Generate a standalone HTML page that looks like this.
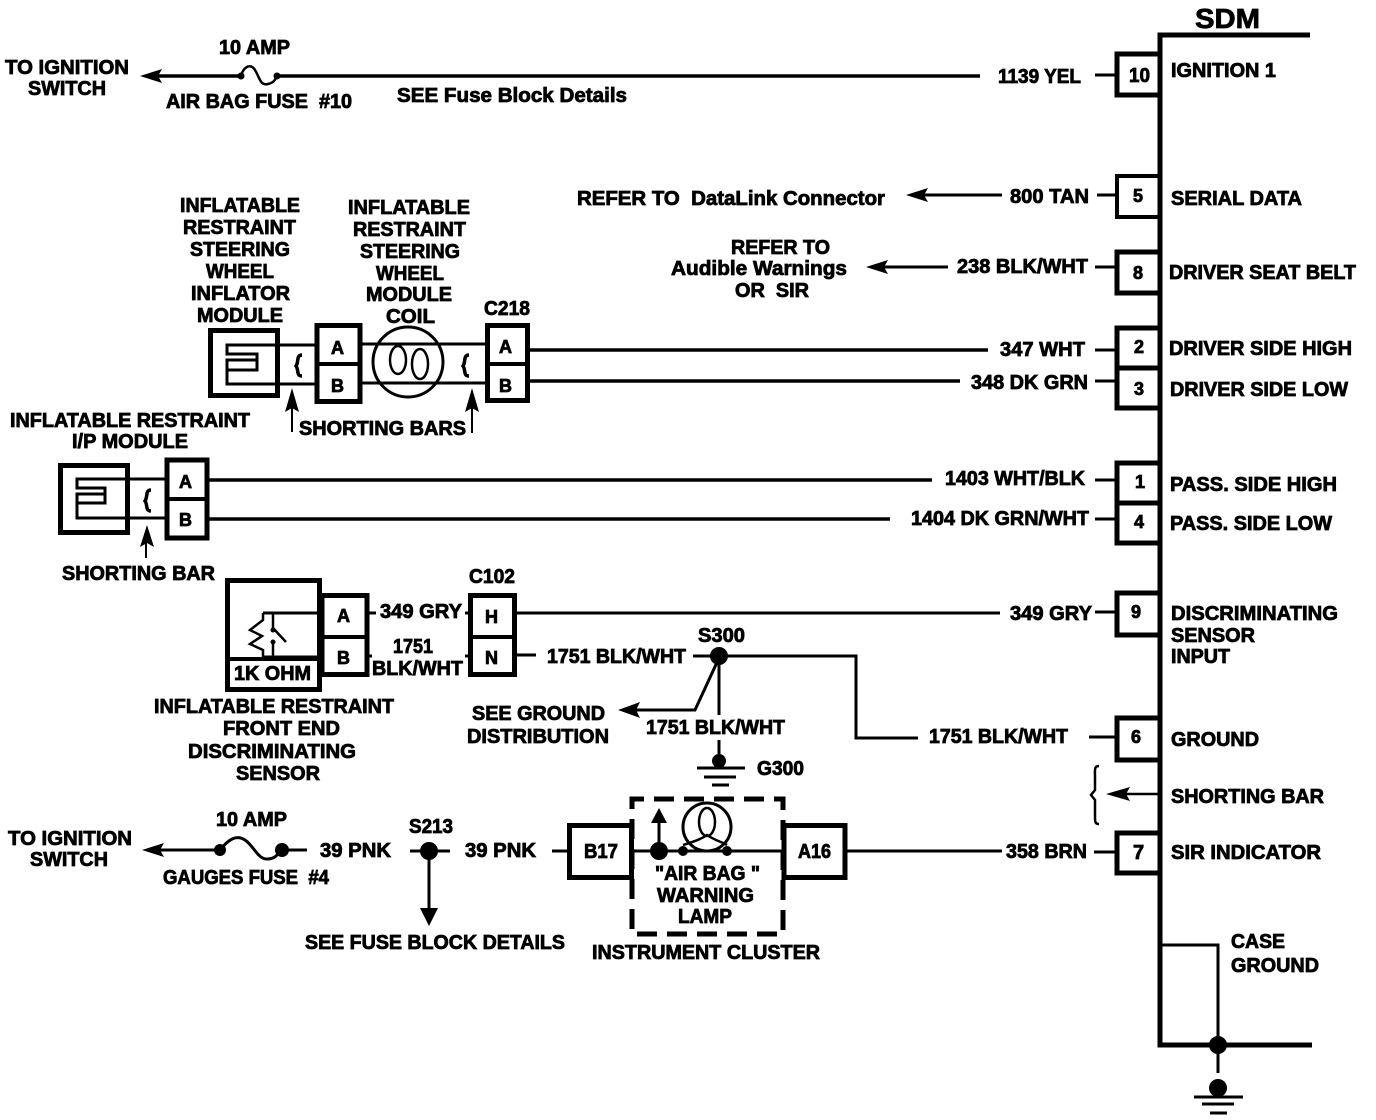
<!DOCTYPE html>
<html><head><meta charset="utf-8"><style>
html,body{margin:0;padding:0;background:#fff;width:1376px;height:1120px;overflow:hidden}
svg{display:block}
text{font-family:"Liberation Sans",sans-serif;font-weight:bold;font-size:20px;fill:#000;stroke:#000;stroke-width:.8px}
.s{font-size:18px}
</style></head><body>
<svg width="1376" height="1120" viewBox="0 0 1376 1120" xmlns="http://www.w3.org/2000/svg">
<g fill="none" stroke="#000" stroke-width="3">
<!-- SDM body -->
<path d="M1310 35H1160V1045H1312" stroke-width="5"/>
<path d="M1160 945H1218V1045M1218 1045V1073" stroke-width="3"/>
<!-- pin boxes -->
<g stroke-width="5">
<rect x="1117" y="54" width="43" height="41"/>
<rect x="1117" y="252" width="43" height="41"/>
<rect x="1117" y="328" width="43" height="40"/>
<rect x="1117" y="368" width="43" height="40"/>
<rect x="1117" y="463" width="43" height="40"/>
<rect x="1117" y="503" width="43" height="40"/>
<rect x="1117" y="593" width="43" height="42"/>
<rect x="1117" y="718" width="43" height="42"/>
<rect x="1117" y="833" width="43" height="40"/>
</g>
<rect x="1117" y="176" width="43" height="41" stroke-width="4"/>
<!-- stubs -->
<path d="M1095 75H1117M1097 195H1117M1095 267H1117M1095 350H1117M1095 381H1117M1095 480H1117M1095 519H1117M1095 612H1117M1089 737H1117M1094 852H1117"/>
<!-- top fuse wire -->
<path d="M150 76H241M277 76H980" stroke-width="3.5"/>
<path d="M241 76C243 68 250 62 255 70S260 86 268 84S275 78 277 76" stroke-width="2.5"/>
<!-- refer wires -->
<path d="M920 195H1002M880 267H948"/>
<!-- driver wires -->
<path d="M530 350H988M530 381H960" stroke-width="3.5"/>
<!-- pass wires -->
<path d="M208 480H932M208 519H890" stroke-width="3.5"/>
<!-- steering module -->
<rect x="210.5" y="330.5" width="67" height="65" stroke-width="5"/>
<path d="M316 345H227V354H257V370H227V384H316M257 360H227V370" stroke-width="3"/>
<rect x="317" y="325.5" width="43" height="76" stroke-width="5"/>
<path d="M317 364H360" stroke-width="4"/>
<path d="M360 344H486M360 383H486"/>
<circle cx="408" cy="362" r="35" stroke-width="3"/>
<ellipse cx="398" cy="360" rx="8" ry="14" stroke-width="2.5"/>
<ellipse cx="420" cy="364" rx="8" ry="15" stroke-width="2.5"/>
<path d="M302 355C296 355 299 362 296 366C299 370 296 376 302 376" stroke-width="3.5"/>
<path d="M469 355C463 355 466 362 463 366C466 370 463 376 469 376" stroke-width="3.5"/>
<rect x="487.5" y="325.5" width="40" height="75" stroke-width="5"/>
<path d="M487 364H527" stroke-width="4"/>
<path d="M292 405V432M472 405V433" stroke-width="2"/>
<!-- IP module -->
<rect x="60.5" y="465.5" width="67" height="67" stroke-width="5"/>
<path d="M166 479H77V488H105V503H77V518H166M105 494H77V503" stroke-width="3"/>
<path d="M151 490C145 490 148 497 145 501C148 505 145 511 151 511" stroke-width="3.5"/>
<rect x="167" y="460" width="40" height="78" stroke-width="5"/>
<path d="M167 499H207" stroke-width="4"/>
<path d="M146 540V558" stroke-width="2"/>
<!-- discriminating sensor -->
<rect x="227.5" y="580.5" width="92" height="109" stroke-width="5"/>
<rect x="322" y="595.5" width="45" height="79" stroke-width="5"/>
<path d="M322 637H367" stroke-width="4"/>
<path d="M263 613H321M263 657H321" stroke-width="3"/>
<path d="M227 659H321" stroke-width="4"/>
<path d="M263 613V620L250 630L262 636L250 644L263 650V657" stroke-width="2.5"/>
<path d="M273 613V628L286 642M273 642V657" stroke-width="2.5"/>
<path d="M367 613H376M367 656H372M465 613H471M465 656H471"/>
<rect x="470.5" y="595.5" width="44" height="79" stroke-width="5"/>
<path d="M471 637H515" stroke-width="4"/>
<!-- C102 out -->
<path d="M516 613H1000M516 655H536M693 656H856V738H918"/>
<path d="M719 658L695 710H635M719 657V715M719 740V756" stroke-width="3"/>
<!-- G300 -->
<path d="M697 768H745" stroke-width="3"/>
<path d="M704 777H736" stroke-width="3"/>
<path d="M712 785H729" stroke-width="3"/>
<!-- S213 -->
<path d="M155 850H220M282 850H307M410 851H450M429 851V910M552 851H568" stroke-width="3"/>
<path d="M220 850C228 840 236 834 245 840S258 860 268 859S278 852 282 850" stroke-width="3"/>
<!-- instrument cluster -->
<rect x="569.5" y="825.5" width="62" height="52" stroke-width="5"/>
<rect x="784" y="825.5" width="61" height="52" stroke-width="5"/>
<rect x="632" y="799" width="151" height="135" stroke-width="5" stroke-dasharray="20 10" stroke-dashoffset="8"/>
<path d="M631 851H782M847 851H1002" stroke-width="3"/>
<path d="M659 851V820" stroke-width="3"/>
<circle cx="707" cy="827" r="24" stroke-width="3"/>
<ellipse cx="707" cy="822" rx="8" ry="14" stroke-width="2.5"/>
<path d="M683 845C692 842 700 840 707 835C714 840 722 842 727 845" stroke-width="2.5"/>
<!-- shorting bracket -->
<path d="M1099 766C1094 766 1095 770 1095 776V790L1091 795L1095 800V816C1095 822 1095 824 1099 824" stroke-width="2.5"/>
<path d="M1120 794H1160" stroke-width="2.5"/>
<!-- ground at bottom -->
<path d="M1194 1097H1243M1202 1104H1234M1210 1113H1227" stroke-width="3"/>
</g>
<!-- dots & arrowheads -->
<g fill="#000">
<polygon points="140,76 162,69 158,76 162,83"/>
<polygon points="906,195 928,188 924,195 928,202"/>
<polygon points="866,267 888,260 884,267 888,274"/>
<polygon points="292,388 285,412 292,408 299,412"/>
<polygon points="472,388 465,412 472,408 479,412"/>
<polygon points="147,525 140,547 147,543 154,547"/>
<polygon points="618,710 640,702 636,710 640,718"/>
<polygon points="142,850 164,843 160,850 164,857"/>
<polygon points="429,926 420,908 438,908"/>
<polygon points="659,808 651,823 667,823"/>
<polygon points="1106,794 1130,787 1126,794 1130,801"/>
<circle cx="719" cy="656" r="9"/>
<circle cx="429" cy="851" r="9"/>
<circle cx="282" cy="850" r="7"/>
<circle cx="220" cy="850" r="6"/>
<circle cx="241" cy="76" r="3.5"/>
<circle cx="277" cy="76" r="3.5"/>
<circle cx="659" cy="851" r="9"/>
<circle cx="683" cy="851" r="5"/>
<circle cx="727" cy="851" r="5"/>
<circle cx="1218" cy="1045" r="9"/>
<circle cx="1218" cy="1088" r="9"/>
<circle cx="719" cy="761" r="7"/>
<circle cx="273" cy="630" r="2.5"/>
<circle cx="273" cy="642" r="2.5"/>
</g>
<g>
<text x="1195" y="28" style="font-size:28px" textLength="65" lengthAdjust="spacingAndGlyphs">SDM</text>
<text x="5" y="74" textLength="124" lengthAdjust="spacingAndGlyphs">TO IGNITION</text>
<text x="28" y="95" textLength="78" lengthAdjust="spacingAndGlyphs">SWITCH</text>
<text x="219" y="54" textLength="71" lengthAdjust="spacingAndGlyphs">10 AMP</text>
<text x="166" y="108" textLength="186" lengthAdjust="spacingAndGlyphs">AIR BAG FUSE &#160;#10</text>
<text x="397" y="102" textLength="230" lengthAdjust="spacingAndGlyphs">SEE Fuse Block Details</text>
<text x="998" y="83" textLength="83" lengthAdjust="spacingAndGlyphs">1139 YEL</text>
<text x="1171" y="77" textLength="105" lengthAdjust="spacingAndGlyphs">IGNITION 1</text>
<text x="1129" y="82" textLength="21" lengthAdjust="spacingAndGlyphs">10</text>
<text x="577" y="205" textLength="308" lengthAdjust="spacingAndGlyphs">REFER TO &#160;DataLink Connector</text>
<text x="1010" y="203" textLength="79" lengthAdjust="spacingAndGlyphs">800 TAN</text>
<text x="1133" y="202" class="s">5</text>
<text x="1171" y="205" textLength="131" lengthAdjust="spacingAndGlyphs">SERIAL DATA</text>
<text x="731" y="254" textLength="99" lengthAdjust="spacingAndGlyphs">REFER TO</text>
<text x="671" y="275" textLength="176" lengthAdjust="spacingAndGlyphs">Audible Warnings</text>
<text x="735" y="297" textLength="74" lengthAdjust="spacingAndGlyphs">OR &#160;SIR</text>
<text x="957" y="273" textLength="131" lengthAdjust="spacingAndGlyphs">238 BLK/WHT</text>
<text x="1133" y="279" class="s">8</text>
<text x="1169" y="279" textLength="187" lengthAdjust="spacingAndGlyphs">DRIVER SEAT BELT</text>
<text x="1000" y="356" textLength="85" lengthAdjust="spacingAndGlyphs">347 WHT</text>
<text x="971" y="389" textLength="117" lengthAdjust="spacingAndGlyphs">348 DK GRN</text>
<text x="1134" y="353" class="s">2</text>
<text x="1134" y="395" class="s">3</text>
<text x="1169" y="355" textLength="183" lengthAdjust="spacingAndGlyphs">DRIVER SIDE HIGH</text>
<text x="1170" y="396" textLength="178" lengthAdjust="spacingAndGlyphs">DRIVER SIDE LOW</text>
<text x="180" y="212" textLength="120" lengthAdjust="spacingAndGlyphs">INFLATABLE</text>
<text x="183" y="234" textLength="113" lengthAdjust="spacingAndGlyphs">RESTRAINT</text>
<text x="190" y="256" textLength="100" lengthAdjust="spacingAndGlyphs">STEERING</text>
<text x="206" y="278" textLength="68" lengthAdjust="spacingAndGlyphs">WHEEL</text>
<text x="191" y="300" textLength="99" lengthAdjust="spacingAndGlyphs">INFLATOR</text>
<text x="197" y="322" textLength="86" lengthAdjust="spacingAndGlyphs">MODULE</text>
<text x="348" y="214" textLength="122" lengthAdjust="spacingAndGlyphs">INFLATABLE</text>
<text x="353" y="236" textLength="113" lengthAdjust="spacingAndGlyphs">RESTRAINT</text>
<text x="360" y="258" textLength="100" lengthAdjust="spacingAndGlyphs">STEERING</text>
<text x="376" y="280" textLength="68" lengthAdjust="spacingAndGlyphs">WHEEL</text>
<text x="366" y="301" textLength="86" lengthAdjust="spacingAndGlyphs">MODULE</text>
<text x="386" y="323" textLength="49" lengthAdjust="spacingAndGlyphs">COIL</text>
<text x="484" y="315" textLength="46" lengthAdjust="spacingAndGlyphs">C218</text>
<text x="331" y="354" class="s">A</text>
<text x="331" y="392" class="s">B</text>
<text x="499" y="353" class="s">A</text>
<text x="499" y="392" class="s">B</text>
<text x="299" y="435" textLength="167" lengthAdjust="spacingAndGlyphs">SHORTING BARS</text>
<text x="10" y="427" textLength="240" lengthAdjust="spacingAndGlyphs">INFLATABLE RESTRAINT</text>
<text x="72" y="448" textLength="116" lengthAdjust="spacingAndGlyphs">I/P MODULE</text>
<text x="179" y="488" class="s">A</text>
<text x="179" y="526" class="s">B</text>
<text x="945" y="485" textLength="140" lengthAdjust="spacingAndGlyphs">1403 WHT/BLK</text>
<text x="911" y="525" textLength="178" lengthAdjust="spacingAndGlyphs">1404 DK GRN/WHT</text>
<text x="1135" y="488" class="s">1</text>
<text x="1134" y="528" class="s">4</text>
<text x="1170" y="491" textLength="167" lengthAdjust="spacingAndGlyphs">PASS. SIDE HIGH</text>
<text x="1170" y="530" textLength="162" lengthAdjust="spacingAndGlyphs">PASS. SIDE LOW</text>
<text x="62" y="580" textLength="153" lengthAdjust="spacingAndGlyphs">SHORTING BAR</text>
<text x="337" y="622" class="s">A</text>
<text x="337" y="664" class="s">B</text>
<text x="234" y="680" textLength="77" lengthAdjust="spacingAndGlyphs">1K OHM</text>
<text x="380" y="618" textLength="82" lengthAdjust="spacingAndGlyphs">349 GRY</text>
<text x="393" y="653" textLength="40" lengthAdjust="spacingAndGlyphs">1751</text>
<text x="372" y="675" textLength="91" lengthAdjust="spacingAndGlyphs">BLK/WHT</text>
<text x="469" y="583" textLength="46" lengthAdjust="spacingAndGlyphs">C102</text>
<text x="485" y="623" class="s">H</text>
<text x="485" y="664" class="s">N</text>
<text x="547" y="663" textLength="139" lengthAdjust="spacingAndGlyphs">1751 BLK/WHT</text>
<text x="698" y="642" textLength="47" lengthAdjust="spacingAndGlyphs">S300</text>
<text x="1010" y="620" textLength="82" lengthAdjust="spacingAndGlyphs">349 GRY</text>
<text x="1131" y="618" class="s">9</text>
<text x="1171" y="620" textLength="167" lengthAdjust="spacingAndGlyphs">DISCRIMINATING</text>
<text x="1171" y="642" textLength="84" lengthAdjust="spacingAndGlyphs">SENSOR</text>
<text x="1171" y="663" textLength="59" lengthAdjust="spacingAndGlyphs">INPUT</text>
<text x="154" y="713" textLength="240" lengthAdjust="spacingAndGlyphs">INFLATABLE RESTRAINT</text>
<text x="223" y="735" textLength="117" lengthAdjust="spacingAndGlyphs">FRONT END</text>
<text x="188" y="758" textLength="168" lengthAdjust="spacingAndGlyphs">DISCRIMINATING</text>
<text x="236" y="780" textLength="84" lengthAdjust="spacingAndGlyphs">SENSOR</text>
<text x="472" y="720" textLength="133" lengthAdjust="spacingAndGlyphs">SEE GROUND</text>
<text x="467" y="743" textLength="142" lengthAdjust="spacingAndGlyphs">DISTRIBUTION</text>
<text x="646" y="734" textLength="139" lengthAdjust="spacingAndGlyphs">1751 BLK/WHT</text>
<text x="929" y="743" textLength="139" lengthAdjust="spacingAndGlyphs">1751 BLK/WHT</text>
<text x="1131" y="743" class="s">6</text>
<text x="1171" y="746" textLength="88" lengthAdjust="spacingAndGlyphs">GROUND</text>
<text x="757" y="775" textLength="47" lengthAdjust="spacingAndGlyphs">G300</text>
<text x="1171" y="803" textLength="153" lengthAdjust="spacingAndGlyphs">SHORTING BAR</text>
<text x="8" y="845" textLength="124" lengthAdjust="spacingAndGlyphs">TO IGNITION</text>
<text x="30" y="866" textLength="78" lengthAdjust="spacingAndGlyphs">SWITCH</text>
<text x="216" y="826" textLength="71" lengthAdjust="spacingAndGlyphs">10 AMP</text>
<text x="163" y="884" textLength="166" lengthAdjust="spacingAndGlyphs">GAUGES FUSE &#160;#4</text>
<text x="320" y="857" textLength="71" lengthAdjust="spacingAndGlyphs">39 PNK</text>
<text x="409" y="833" textLength="44" lengthAdjust="spacingAndGlyphs">S213</text>
<text x="465" y="857" textLength="71" lengthAdjust="spacingAndGlyphs">39 PNK</text>
<text x="584" y="858" textLength="34" lengthAdjust="spacingAndGlyphs">B17</text>
<text x="798" y="858" textLength="33" lengthAdjust="spacingAndGlyphs">A16</text>
<text x="1006" y="858" textLength="81" lengthAdjust="spacingAndGlyphs">358 BRN</text>
<text x="1133" y="859">7</text>
<text x="1171" y="859" textLength="150" lengthAdjust="spacingAndGlyphs">SIR INDICATOR</text>
<text x="655" y="880" textLength="105" lengthAdjust="spacingAndGlyphs">"AIR BAG "</text>
<text x="657" y="902" textLength="97" lengthAdjust="spacingAndGlyphs">WARNING</text>
<text x="678" y="923" textLength="54" lengthAdjust="spacingAndGlyphs">LAMP</text>
<text x="592" y="959" textLength="228" lengthAdjust="spacingAndGlyphs">INSTRUMENT CLUSTER</text>
<text x="305" y="949" textLength="260" lengthAdjust="spacingAndGlyphs">SEE FUSE BLOCK DETAILS</text>
<text x="1231" y="948" textLength="54" lengthAdjust="spacingAndGlyphs">CASE</text>
<text x="1231" y="972" textLength="88" lengthAdjust="spacingAndGlyphs">GROUND</text>
</g>
</svg>
</body></html>
